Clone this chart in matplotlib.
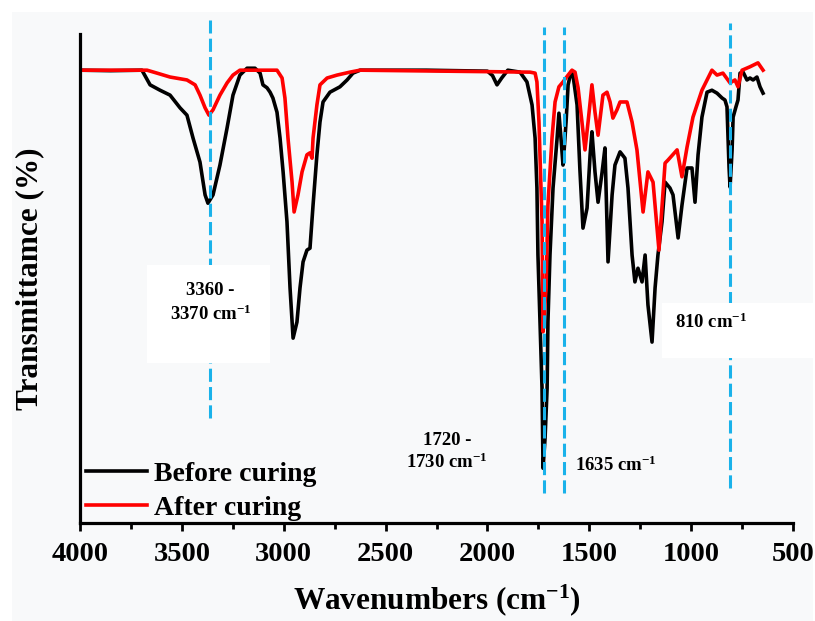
import matplotlib
matplotlib.use("Agg")
import matplotlib.pyplot as plt
from matplotlib.patches import Rectangle

plt.rcParams['font.family'] = ['Liberation Serif', 'DejaVu Serif']
plt.rcParams['font.weight'] = 'bold'
plt.rcParams['mathtext.fontset'] = 'custom'
plt.rcParams['mathtext.rm'] = 'Liberation Serif:bold'
plt.rcParams['mathtext.it'] = 'Liberation Serif:bold:italic'
plt.rcParams['mathtext.bf'] = 'Liberation Serif:bold'

# spectrum before curing (wavenumber, transmittance)
before_wn = [4000, 3850, 3696, 3656, 3607, 3558, 3509, 3475, 3445, 3411, 3386, 3372, 3347, 3313,
             3278, 3249, 3215, 3180, 3141, 3116, 3102, 3082, 3067, 3053, 3033, 3018, 3003, 2984,
             2969, 2954, 2935, 2920, 2905, 2886, 2871, 2856, 2837, 2822, 2807, 2773, 2738, 2724,
             2689, 2660, 2625, 2300, 2000, 1975, 1953, 1930, 1900, 1840, 1806, 1781, 1766, 1757,
             1752, 1742, 1732, 1727, 1717, 1707, 1703, 1693, 1678, 1658, 1649, 1639, 1629, 1624,
             1614, 1604, 1590, 1580, 1560, 1546, 1531, 1511, 1496, 1487, 1472, 1457, 1437, 1423,
             1413, 1408, 1388, 1374, 1349, 1325, 1310, 1290, 1276, 1261, 1241, 1226, 1212, 1192,
             1177, 1163, 1143, 1128, 1104, 1089, 1064, 1045, 1020, 996, 981, 966, 947, 922, 898,
             873, 848, 834, 824, 814, 809, 799, 794, 780, 770, 760, 745, 726, 711, 696, 677, 662, 647]
before_t = [92.6, 92.5, 92.6, 89.6, 88.5, 87.5, 84.9, 83.4, 78.7, 73.8, 67.1, 65.4, 67.1, 73.2,
            80.8, 87.5, 91.6, 93.0, 93.0, 92.0, 89.6, 89.0, 88.1, 86.9, 84.0, 78.7, 71.8, 61.6,
            48.1, 37.8, 41.1, 48.1, 53.4, 55.8, 56.2, 65.0, 75.3, 82.0, 86.1, 88.1, 88.9, 89.2,
            90.6, 92.0, 92.6, 92.6, 92.4, 91.5, 89.6, 91.0, 92.6, 92.2, 90.2, 85.5, 78.7, 68.5,
            54.8, 41.1, 27.6, 11.2, 17.4, 27.6, 41.1, 54.8, 68.5, 78.7, 83.8, 78.7, 73.2, 75.9,
            82.0, 89.6, 92.2, 91.6, 85.5, 72.2, 60.3, 64.4, 75.3, 80.0, 71.8, 65.6, 71.8, 76.7,
            61.6, 53.4, 67.1, 73.2, 75.9, 74.6, 68.5, 54.8, 49.3, 52.1, 49.3, 54.8, 44.6, 37.0,
            48.1, 54.8, 61.6, 69.7, 68.5, 67.1, 58.3, 65.0, 72.6, 72.6, 65.6, 75.3, 83.0, 88.1, 88.5,
            87.9, 86.9, 86.5, 85.1, 72.8, 68.7, 76.3, 83.0, 85.1, 86.5, 92.0, 92.2, 90.6, 91.0, 90.6, 91.2, 89.2, 87.9]

# spectrum after curing
after_wn = [4000, 3671, 3622, 3558, 3475, 3435, 3411, 3386, 3367, 3347, 3313, 3278, 3249, 3215,
            3033, 3008, 2994, 2979, 2959, 2949, 2930, 2910, 2886, 2871, 2861, 2856, 2837, 2822,
            2787, 2738, 2675, 2625, 1791, 1766, 1757, 1747, 1732, 1727, 1712, 1703, 1683, 1668,
            1649, 1629, 1604, 1585, 1570, 1555, 1536, 1521, 1506, 1487, 1472, 1457, 1433, 1413,
            1398, 1384, 1364, 1349, 1315, 1290, 1266, 1236, 1212, 1187, 1158, 1128, 1114, 1069,
            1045, 1020, 991, 947, 898, 873, 844, 809, 785, 770, 750, 711, 672, 647]
after_t = [92.6, 92.6, 92.0, 91.2, 90.6, 89.6, 87.5, 84.9, 83.4, 84.5, 87.5, 90.0, 91.6, 92.6,
           92.6, 91.0, 86.9, 78.7, 69.7, 63.6, 67.1, 71.8, 75.3, 75.7, 74.6, 78.7, 85.5, 89.6,
           91.0, 91.6, 92.2, 92.6, 92.2, 92.0, 90.2, 82.0, 61.6, 39.1, 48.1, 65.0, 78.7, 86.1,
           89.2, 90.2, 91.6, 92.6, 92.2, 89.0, 82.0, 76.3, 82.0, 89.6, 84.0, 79.3, 87.5, 88.1,
           86.1, 82.8, 84.5, 86.1, 86.1, 82.0, 76.3, 63.6, 71.8, 69.7, 55.8, 73.6, 74.2, 76.3,
           70.8, 76.9, 83.0, 88.5, 92.6, 91.6, 92.0, 90.0, 90.6, 89.2, 92.6, 93.3, 94.1, 92.6]

peak_wn = [3360, 1720, 1625, 808]
x_ticks = [4000, 3500, 3000, 2500, 2000, 1500, 1000, 500]

fig = plt.figure(figsize=(8.15, 6.21), dpi=100, facecolor='white')
fig.patches.append(Rectangle((12/815, 0), 801/815, 609/621, transform=fig.transFigure,
                             facecolor='#f8f9fa', edgecolor='none', zorder=-10))
ax = fig.add_axes([80/815, 1 - 523/621, 713/815, 489/621])
ax.set_facecolor('none')

ax.plot(before_wn, before_t, color='black', lw=2.6, label='Before curing', zorder=2)
ax.plot(after_wn, after_t, color='#ff0000', lw=2.6, label='After curing', zorder=2)

# dashed marker lines
tops = [102.9, 101.4, 101.4, 102.2]
bots = [21.5, 6.1, 6.1, 7.2]
for w, y0, y1 in zip(peak_wn, bots, tops):
    ax.plot([w, w], [y0, y1], color='#1ab2ea', lw=2.2, dashes=(4.3, 1.7), clip_on=False, zorder=3)

# white label boxes
ax.add_patch(Rectangle((3067, 32.7), 3671 - 3067, 20.1, facecolor='white', edgecolor='none', zorder=4))
ax.add_patch(Rectangle((393, 33.7), 1143 - 393, 11.3, facecolor='white', edgecolor='none',
                       zorder=4, clip_on=False))

fs = 13.5
ax.text(3360, 47.5, '3360 -', ha='center', va='center', fontsize=fs, zorder=5)
ax.text(3360, 42.6, '3370 cm$^{-1}$', ha='center', va='center', fontsize=fs, zorder=5)
ax.text(2198, 16.8, '1720 -', ha='center', va='center', fontsize=fs, zorder=5)
ax.text(2198, 12.5, '1730 cm$^{-1}$', ha='center', va='center', fontsize=fs, zorder=5)
ax.text(1570, 11.9, '1635 cm$^{-1}$', ha='left', va='center', fontsize=fs, zorder=5)
ax.text(1080, 41.1, '810 cm$^{-1}$', ha='left', va='center', fontsize=fs, zorder=5)

ax.set_xlim(4000, 500)
ax.set_ylim(0, 100)
ax.set_xticks(x_ticks)
ax.set_xticks([3750, 3250, 2750, 2250, 1750, 1250, 750], minor=True)
ax.set_yticks([])
for s in ['top', 'right']:
    ax.spines[s].set_visible(False)
for s in ['left', 'bottom']:
    ax.spines[s].set_linewidth(2.3)
ax.tick_params(axis='x', which='major', direction='out', length=6, width=2, labelsize=20.5, pad=8)
ax.tick_params(axis='x', which='minor', direction='out', length=4, width=2)
for lab in ax.get_xticklabels():
    lab.set_fontweight('bold')

ax.set_xlabel('Wavenumbers (cm$^{-1}$)', fontsize=22.5, fontweight='bold', labelpad=11)
ax.set_ylabel('Transmittamce (%)', fontsize=22.5, fontweight='bold', labelpad=26)

ax.legend(loc='lower left', bbox_to_anchor=(6/713, 2/489), frameon=False,
          handlelength=2.2, handletextpad=0.25, labelspacing=0.3, borderpad=0.0,
          borderaxespad=0.0, prop={'weight': 'bold', 'size': 20})

fig.savefig('out.png', dpi=100, facecolor=fig.get_facecolor())
